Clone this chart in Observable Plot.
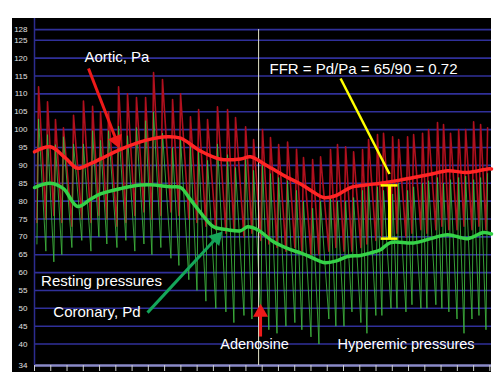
<!DOCTYPE html>
<html><head><meta charset="utf-8">
<script src="https://cdn.jsdelivr.net/npm/d3@7"></script>
<script src="https://cdn.jsdelivr.net/npm/@observablehq/plot@0.6"></script>
<style>
body{margin:0;background:#fff;}
#wrap{position:relative;width:500px;height:382px;}
#bg{position:absolute;left:12px;top:18px;width:479px;height:354px;background:#000;}
#chart{position:absolute;left:0;top:0;}
</style></head><body>
<div id="wrap"><div id="bg"></div><div id="chart"></div></div>
<script>
// ---- data (time in seconds, pressure in mmHg) ----
const yTicks = [34,40,45,50,55,60,65,70,75,80,85,90,95,100,105,110,115,120,125,128];
const xTicks = [0,1,2,3,4,5,6,7,8,9,10,11,12,13,14,15,16,17,18,19,20,21,22,23,24,25,26,27,28];

const beatTimes = [0.25,0.80,1.29,1.78,2.40,3.01,3.57,4.06,4.55,5.17,5.72,6.27,6.83,7.32,7.87,8.49,8.98,9.59,10.09,10.64,11.25,11.87,12.36,12.98,13.47,14.02,14.51,15.01,15.56,16.11,16.54,17.10,17.59,18.20,18.63,19.13,19.62,20.17,20.54,21.09,21.46,22.02,22.39,22.94,23.31,23.86,24.23,24.78,25.15,25.58,26.08,26.51,27.00,27.43,27.86];
const aorticPeaks = [112,107.8,102.8,100.5,104,108,106.5,105,105,112,110,109,109,116,114,108.4,110,103.6,105.6,102.8,106.4,105.6,103.4,100.8,97.2,100,97.8,95.8,96.5,94.5,92.2,91.6,92.4,94.4,95.8,95.2,93.8,94.4,97.2,98.6,99,98,97.2,98,98.6,99,100,102,101.4,99,100,100,102.2,101.4,100.5];
const aorticTroughs = [74,75,76,74,73,75,74,76,75,73,74,76,77,75,76,77,76,75,74,73,72,71,72,70,71,69,68,67,66,67,66,65,65,66,67,66,66,67,68,69,70,70,71,70,71,72,71,72,73,72,72,73,72,73,72];
const coronaryPeaks = [103,98.6,95.8,98,96,96,99.7,97,99.7,101,98.3,100.6,102.5,105,99,95,97.5,95.6,94,91.4,96,93,89.4,92.2,88.6,90.5,87.7,86.6,85.7,83,80,78,80,81,80,80,81,83,85,84,83,82,85,83,84,85,85.7,86.6,85,86,86.6,87,86,86.6,87.7];
const coronaryTroughs = [68,66,63,65,67,69,66,70,68,67,69,66,68,65,67,64,62,58,55,52,50,49,46,48,47,47,44,43,45,46,44,42,40,47,45,45,49,46,43,48,48,50,50,49,51,50,50,51,50,49,47,43,47,48,44];

const paMeanTimes = [0,0.98,1.91,2.64,3.44,4.06,5.29,6.83,8.18,8.98,10.21,11.44,12.67,13.28,14.33,15.56,16.36,17.16,17.77,18.51,19.43,20.36,21.28,22.39,23.31,24.35,25.40,26.63,27.86,28.1];
const paMeanValues = [93.8,95.2,92,89.2,90.5,91.8,94.5,97,98,97.6,94,91.7,91.8,92.4,89.8,86.6,84.8,82.5,81,81.5,83.8,84.5,85,85.8,86.6,87.5,88.5,88,89,89];
const pdMeanTimes = [0,0.98,1.78,2.64,3.44,4.06,5.29,6.52,7.13,8.36,8.98,9.59,10.21,11.01,11.87,12.67,13.10,13.71,14.70,15.74,16.36,17.16,17.77,18.51,19.25,20.05,20.66,21.28,21.89,23.31,24.35,25.40,26.63,27.61,28.1];
const pdMeanValues = [83.8,85,83.5,78.5,80.5,82,83.5,84.5,84.6,84,83.8,80.4,76.8,72.8,72,71.7,72.8,72,68.6,66.4,65.5,64,62.8,63.2,64.5,64.8,65.5,66.4,68.4,68.3,69.5,70.6,69.5,71.2,70.8];

const adenosineTime = 13.78;
const labels = [
  {text: "Aortic, Pa", t: 5.07, v: 120.2},
  {text: "FFR = Pd/Pa = 65/90 = 0.72", t: 20.23, v: 116.8},
  {text: "Resting pressures", t: 4.12, v: 57.6},
  {text: "Coronary, Pd", t: 3.84, v: 49.0}
];
const labelsSmall = [
  {text: "Adenosine", t: 13.53, v: 39.9},
  {text: "Hyperemic pressures", t: 22.85, v: 39.9}
];
const redArrows = [
  {t1: 3.32, v1: 117.1, t2: 5.23, v2: 94.7},
  {t1: 13.9, v1: 42.1, t2: 13.9, v2: 51.3}
];
const greenArrows = [
  {t1: 6.95, v1: 48.8, t2: 11.56, v2: 71.5}
];
const ffrPointer = [{t1: 18.82, v1: 114.3, t2: 21.83, v2: 87.6}];
const ffrBar = [{t: 21.83, pa: 84.4, pd: 69.5}];

// ---- layout ----
const W = 500, H = 382, mL = 34, mR = 9, mT = 18, mB = 17;
const xDomain = [0, 28.1], yDomain = [34, 131.1];
const xs = d3.scaleLinear(xDomain, [mL, W - mR]);
const ys = d3.scaleLinear(yDomain, [H - mB, mT]);

const upstroke = 0.1;
function wave(peaks, troughs) {
  const pts = [];
  beatTimes.forEach((t, i) => {
    pts.push({t: t - upstroke, v: troughs[i]});
    pts.push({t: t, v: peaks[i]});
  });
  return pts;
}
const aorticWave = wave(aorticPeaks, aorticTroughs);
const coronaryWave = wave(coronaryPeaks, coronaryTroughs);
const paMean = paMeanTimes.map((t, i) => ({t, v: paMeanValues[i]}));
const pdMean = pdMeanTimes.map((t, i) => ({t, v: pdMeanValues[i]}));

// arrowheads (filled triangles) computed from scales
const headSide = 15;
const centroidDist = headSide / Math.sqrt(3);
const headR = Math.sqrt((Math.sqrt(3) / 4 * headSide * headSide) / Math.PI);
function heads(arr) {
  return arr.map(a => {
    const x1 = xs(a.t1), y1 = ys(a.v1), x2 = xs(a.t2), y2 = ys(a.v2);
    const L = Math.hypot(x2 - x1, y2 - y1), ux = (x2 - x1) / L, uy = (y2 - y1) / L;
    const cx = x2 - ux * centroidDist, cy = y2 - uy * centroidDist;
    return {t: xs.invert(cx), v: ys.invert(cy), rot: Math.atan2(ux, -uy) * 180 / Math.PI,
            t1: a.t1, v1: a.v1};
  });
}
const redHeads = heads(redArrows), greenHeads = heads(greenArrows);

const font = "Liberation Sans, Arial, Helvetica, sans-serif";

const chart = Plot.plot({
  width: W, height: H,
  marginLeft: mL, marginRight: mR, marginTop: mT, marginBottom: mB,
  style: {background: "transparent", overflow: "visible"},
  x: {domain: xDomain},
  y: {domain: yDomain},
  marks: [
    Plot.ruleY(yTicks.filter(d => d !== 34), {stroke: "#30309a", strokeWidth: 1.6}),
    Plot.ruleY([34], {stroke: "#8a8ac8", strokeWidth: 2.5}),
    Plot.ruleX([0], {stroke: "#2c2c90", strokeWidth: 1.5}),
    Plot.axisY(yTicks, {tickSize: 0, tickPadding: 7, fill: "#e0e0e0", fontSize: 8, fontFamily: "Liberation Sans Narrow, Liberation Sans, Arial, sans-serif", label: null}),
    Plot.axisX(xTicks, {tickSize: 6, stroke: "#d0d0d0", tickFormat: () => "", label: null}),
    Plot.line(aorticWave, {x: "t", y: "v", stroke: "#b0101e", strokeWidth: 1.6}),
    Plot.line(coronaryWave, {x: "t", y: "v", stroke: "#3fb840", strokeWidth: 1, strokeOpacity: 0.85}),
    Plot.ruleX([adenosineTime], {y1: 34, y2: 128, stroke: "#e4e4c8", strokeWidth: 1}),
    Plot.line(pdMean, {x: "t", y: "v", stroke: "#35d248", strokeWidth: 3.5, curve: "catmull-rom"}),
    Plot.line(paMean, {x: "t", y: "v", stroke: "#ff2424", strokeWidth: 3.5, curve: "catmull-rom"}),
    Plot.link(redHeads, {x1: "t1", y1: "v1", x2: "t", y2: "v", stroke: "#ee1a1a", strokeWidth: 3}),
    Plot.dot(redHeads, {x: "t", y: "v", symbol: "triangle", r: headR, fill: "#ee1a1a", stroke: "none", rotate: "rot"}),
    Plot.link(greenHeads, {x1: "t1", y1: "v1", x2: "t", y2: "v", stroke: "#14a65a", strokeWidth: 3}),
    Plot.dot(greenHeads, {x: "t", y: "v", symbol: "triangle", r: headR, fill: "#14a65a", stroke: "none", rotate: "rot"}),
    Plot.link(ffrPointer, {x1: "t1", y1: "v1", x2: "t2", y2: "v2", stroke: "#ffff00", strokeWidth: 2.5}),
    Plot.ruleX(ffrBar, {x: "t", y1: "pd", y2: "pa", stroke: "#ffff00", strokeWidth: 3}),
    Plot.ruleY(ffrBar, {y: "pa", x1: d => d.t - 0.52, x2: d => d.t + 0.52, stroke: "#ffff00", strokeWidth: 2.5}),
    Plot.ruleY(ffrBar, {y: "pd", x1: d => d.t - 0.52, x2: d => d.t + 0.52, stroke: "#ffff00", strokeWidth: 2.5}),
    Plot.text(labels, {x: "t", y: "v", text: "text", fill: "#ffffff", fontSize: 15, fontFamily: font}),
    Plot.text(labelsSmall, {x: "t", y: "v", text: "text", fill: "#ffffff", fontSize: 14.5, fontFamily: font})
  ]
});
document.getElementById("chart").appendChild(chart);
</script>
</body></html>
